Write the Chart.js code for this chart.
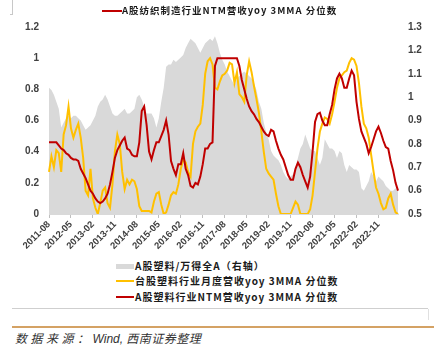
<!DOCTYPE html>
<html>
<head>
<meta charset="utf-8">
<script src="https://cdn.jsdelivr.net/npm/chart.js@4"></script>
<style>
  html, body { margin: 0; padding: 0; background: #fff; }
  #wrap { position: relative; width: 434px; height: 350px; overflow: hidden; background: #fff; }
  #c { position: absolute; left: 0; top: 0; }
  .cjk { font-family: "Noto Sans CJK SC", "Noto Sans", sans-serif; }
  .lg { position: absolute; font-size: 10px; font-weight: 700; color: #1a1a1a; line-height: 14px; letter-spacing: 1px; white-space: nowrap; }
  .sw { position: absolute; }
</style>
</head>
<body>
<div id="wrap">
  <canvas id="c" width="434" height="258"></canvas>

  <!-- top artefact line -->
  <div class="sw" style="left:12px;top:0;width:1px;height:15px;background:#c8c8c8;"></div>
  <div class="sw" style="left:10px;top:14px;width:3px;height:1px;background:#c8c8c8;"></div>

  <!-- top legend-like title -->
  <div class="sw" style="left:102px;top:10px;width:20px;height:2px;background:#C00000;"></div>
  <div class="lg cjk" id="topTitle" style="left:122px;top:3px;font-size:9.5px;"></div>

  <!-- bottom legend -->
  <div class="sw" style="left:116px;top:264px;width:18px;height:5px;background:#d9d9d9;"></div>
  <div class="lg cjk" id="lg0" style="left:135px;top:259px;"></div>
  <div class="sw" style="left:116px;top:280px;width:18px;height:2px;background:#FFC000;"></div>
  <div class="lg cjk" id="lg1" style="left:135px;top:274px;"></div>
  <div class="sw" style="left:116px;top:296px;width:18px;height:2px;background:#C00000;"></div>
  <div class="lg cjk" id="lg2" style="left:135px;top:290px;"></div>

  <!-- frame lines -->
  <div class="sw" style="left:12px;top:308px;width:416px;height:1px;background:#cfcfcf;"></div>
  <div class="sw" style="left:428px;top:309px;width:1px;height:11px;background:#e0e0e0;"></div>
  <div class="sw" style="left:12px;top:326px;width:422px;height:1.5px;background:#D4A264;"></div>

  <!-- source -->
  <div class="sw cjk" style="left:15px;top:330px;font-size:12px;font-style:italic;color:#333;line-height:16px;white-space:nowrap;">
    <span style="letter-spacing:3.5px;">数据来源：</span><span style="font-family:'Liberation Sans',Arial,sans-serif;">Wind,</span><span style="letter-spacing:0.5px;"> 西南证券整理</span>
  </div>
</div>

<script>
// ---- data ----
const tickLabels = ['2011-08','2012-05','2013-02','2013-11','2014-08','2015-05','2016-02','2016-11',
                    '2017-08','2018-05','2019-02','2019-11','2020-08','2021-05','2022-02','2022-11'];

const seriesNames = ['A股塑料/万得全A（右轴）', '台股塑料行业月度营收yoy 3MMA 分位数', 'A股塑料行业NTM营收yoy 3MMA 分位数'];
const titleText = 'A股纺织制造行业NTM营收yoy 3MMA 分位数';

// A股塑料/万得全A (right axis)
const grayRatio = [
  1.04,1.03,1.01,0.98,0.95,0.87,0.89,0.91,0.92,0.91,
  0.92,0.92,0.91,0.90,0.88,0.86,0.87,0.88,0.90,0.92,
  0.96,0.98,0.99,1.01,0.99,0.96,0.93,0.92,0.92,0.93,
  0.94,0.95,0.93,0.93,0.94,0.95,1.00,1.01,0.99,0.96,
  0.93,0.93,0.93,0.91,0.87,0.91,0.98,1.04,1.13,1.14,
  1.14,1.16,1.15,1.16,1.17,1.18,1.21,1.23,1.25,1.24,
  1.23,1.21,1.19,1.21,1.23,1.24,1.25,1.24,1.26,1.23,
  1.19,1.16,1.14,1.11,1.09,1.07,1.05,1.08,1.09,1.10,
  1.11,1.10,1.09,1.08,1.06,1.03,0.98,0.95,0.89,0.85,
  0.82,0.77,0.75,0.74,0.73,0.71,0.68,0.66,0.65,0.66,
  0.67,0.70,0.74,0.78,0.80,0.84,0.81,0.78,0.77,0.77,
  0.74,0.71,0.74,0.82,0.80,0.78,0.78,0.77,0.74,0.77,
  0.76,0.71,0.68,0.71,0.70,0.69,0.69,0.68,0.61,0.60,
  0.62,0.64,0.68,0.66,0.64,0.66,0.65,0.64,0.62,0.61,
  0.60,0.60,0.61,0.60
];

// 台股塑料行业月度营收yoy 3MMA 分位数
const twPlastic = [
  0.27,0.37,0.30,0.41,0.39,0.27,0.51,0.57,0.69,0.55,
  0.49,0.54,0.58,0.49,0.36,0.15,0.12,0.29,0.10,0.04,
  0.00,0.07,0.15,0.17,0.07,0.04,0.19,0.40,0.51,0.45,
  0.27,0.16,0.22,0.19,0.22,0.21,0.16,0.05,0.02,0.02,
  0.02,0.02,0.01,0.08,0.13,0.14,0.06,0.00,0.01,0.06,
  0.12,0.14,0.13,0.19,0.29,0.35,0.33,0.27,0.24,0.45,
  0.53,0.56,0.58,0.70,0.90,0.98,1.00,0.96,0.81,0.80,
  0.85,0.89,0.90,0.92,0.97,0.96,0.84,0.91,0.77,0.75,
  0.72,0.89,0.98,0.91,0.82,0.74,0.65,0.53,0.40,0.29,
  0.26,0.24,0.22,0.13,0.05,0.00,0.00,0.00,0.00,0.00,
  0.04,0.08,0.06,0.00,0.00,0.00,0.00,0.03,0.12,0.27,
  0.42,0.53,0.58,0.62,0.61,0.58,0.64,0.72,0.81,0.87,
  0.89,0.91,0.92,0.97,1.00,0.99,0.95,0.84,0.69,0.58,
  0.55,0.49,0.38,0.27,0.17,0.13,0.07,0.03,0.04,0.10,
  0.13,0.06,0.01,0.00
];

// A股塑料行业NTM营收yoy 3MMA 分位数
const aPlastic = [
  0.46,0.46,0.46,0.46,0.44,0.42,0.41,0.39,0.38,0.36,
  0.35,0.35,0.34,0.29,0.26,0.23,0.19,0.15,0.13,0.10,
  0.08,0.07,0.08,0.10,0.13,0.19,0.27,0.36,0.41,0.44,
  0.47,0.49,0.42,0.41,0.38,0.37,0.37,0.46,0.66,0.69,
  0.57,0.40,0.35,0.41,0.46,0.46,0.50,0.54,0.60,0.51,
  0.34,0.29,0.25,0.32,0.32,0.39,0.29,0.25,0.18,0.17,
  0.20,0.19,0.24,0.32,0.42,0.42,0.45,0.46,0.95,1.00,
  1.00,1.00,1.00,1.00,1.00,1.00,1.00,1.00,0.95,0.86,
  0.80,0.74,0.69,0.66,0.64,0.61,0.59,0.56,0.53,0.51,
  0.50,0.54,0.53,0.47,0.42,0.38,0.35,0.30,0.25,0.22,
  0.22,0.29,0.33,0.30,0.25,0.21,0.17,0.24,0.40,0.59,
  0.64,0.65,0.60,0.57,0.57,0.64,0.70,0.80,0.87,0.90,
  0.87,0.81,0.81,0.87,0.92,0.89,0.72,0.61,0.53,0.49,
  0.45,0.39,0.43,0.48,0.53,0.56,0.52,0.47,0.43,0.42,
  0.34,0.28,0.20,0.15
];

// monthly categories 2011-08 onward, one per data point
const categories = [];
for (let k = 0; k < aPlastic.length; k++) {
  const m = 7 + k; // 0-based month from Jan 2011
  const y = 2011 + Math.floor(m / 12);
  const mm = (m % 12) + 1;
  categories.push(y + '-' + (mm < 10 ? '0' + mm : '' + mm));
}

document.getElementById('topTitle').textContent = titleText;
document.getElementById('lg0').textContent = seriesNames[0];
document.getElementById('lg1').textContent = seriesNames[1];
document.getElementById('lg2').textContent = seriesNames[2];

const tickFont = { family: "'Liberation Sans', Arial, sans-serif", size: 10, weight: 'bold' };

new Chart(document.getElementById('c'), {
  type: 'line',
  data: {
    labels: categories,
    datasets: [
      { label: seriesNames[2], data: aPlastic, yAxisID: 'y', borderColor: '#C00000', borderWidth: 2,
        pointRadius: 0, fill: false, tension: 0, order: 0 },
      { label: seriesNames[1], data: twPlastic, yAxisID: 'y', borderColor: '#FFC000', borderWidth: 2,
        pointRadius: 0, fill: false, tension: 0, order: 1 },
      { label: seriesNames[0], data: grayRatio, yAxisID: 'y1', borderColor: '#d9d9d9', borderWidth: 0,
        backgroundColor: '#d9d9d9', pointRadius: 0, fill: 'start', tension: 0, order: 2 }
    ]
  },
  options: {
    responsive: false,
    animation: false,
    events: [],
    layout: { padding: { top: 27, left: 0, right: 0, bottom: 0 } },
    plugins: { legend: { display: false }, tooltip: { enabled: false }, title: { display: false } },
    scales: {
      x: {
        type: 'category',
        offset: false,
        afterFit: (s) => { s.height = 44; },
        border: { display: true, color: '#d9d9d9', width: 1 },
        grid: { display: true, drawOnChartArea: false, drawTicks: true, tickLength: 4, color: '#bfbfbf' },
        ticks: {
          autoSkip: false, minRotation: 45, maxRotation: 45, padding: 1,
          color: '#404040',
          font: { family: "'Liberation Sans', Arial, sans-serif", size: 9.5, weight: 'bold' },
          callback: function (value) {
            const l = this.getLabelForValue(value);
            return tickLabels.includes(l) ? l : null;
          }
        }
      },
      y: {
        position: 'left', min: 0, max: 1.2,
        afterFit: (s) => { s.width = 49; },
        border: { display: false },
        grid: { display: false, drawTicks: false },
        ticks: { stepSize: 0.2, padding: 10, color: '#404040', font: tickFont,
                 callback: (v) => String(Math.round(v * 10) / 10) }
      },
      y1: {
        position: 'right', min: 0.5, max: 1.3,
        afterFit: (s) => { s.width = 36; },
        border: { display: false },
        grid: { display: false, drawTicks: false },
        ticks: { stepSize: 0.1, padding: 10, color: '#404040', font: tickFont,
                 callback: (v) => String(Math.round(v * 10) / 10) }
      }
    }
  }
});
</script>
</body>
</html>
